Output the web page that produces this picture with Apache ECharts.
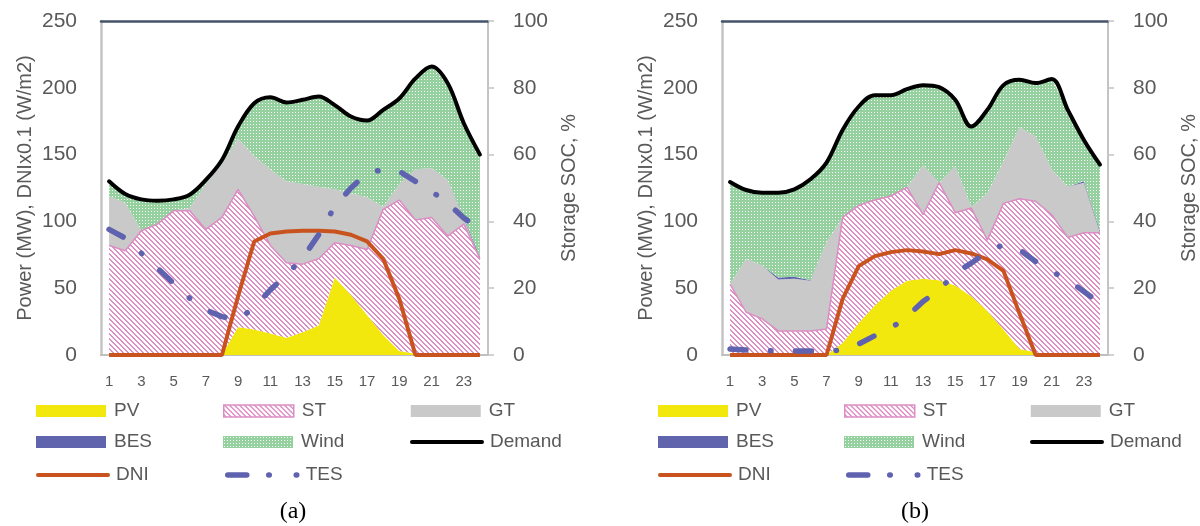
<!DOCTYPE html>
<html>
<head>
<meta charset="utf-8">
<script src="https://cdn.jsdelivr.net/npm/echarts@6/dist/echarts.min.js"></script>
<style>
  html, body { margin: 0; background: #fff; }
  #chart { width: 1200px; height: 526px; }
</style>
</head>
<body>
<div id="chart"></div>
<script>
// hours of the day
const hours = ['1','2','3','4','5','6','7','8','9','10','11','12','13','14','15','16','17','18','19','20','21','22','23','24'];

// panel (a)
const pvA = [0,0,0,0,0,0,0,0,21,19,16,13,17,22,58,45,30,15,3,1,0,0,0,0];
const stA = [82,78,93,98,108,108,94,103,103,85,66,56,51,50,26,37,49,94,113,100,103,89,98,72];
const gtA = [37,36,0,0,0,2,34,40,38,45,57,61,60,54,40,39,39,2,12,38,37,42,4,0];
const besA = [0,0,0,0,0,0,0,0,0,0,0,0,0,0,0,0,0,0,0,0,0,0,1,1.5];
const windA = [11,7,23,17,8,10,3,4,9,40,54,59,63,68,63,58,58,72,64,68,76,72,71,77];
const demandA = [130,120.5,116.5,115.5,116.5,120,131,146,171,188.5,193,189,191,193.5,187,178.5,175.5,183.5,192,207,216,203.5,173.5,150];
const dniA = [0,0,0,0,0,0,0,0,44,85,91,92.5,93,93,92.5,90,85,72,42,0,0,0,0,0];
const tesA = [37.6,35,30.5,26,21.5,17,13.5,11.5,10.5,14.3,19.5,24,29,36,44.5,50,54.5,55.5,55,52,49,45.5,41,37.7];

// panel (b)
const pvB = [0,0,0,0,0,0,0,9,24,37,48,55.5,57,56,52,44,33,19,4.5,2,0,0,0,0];
const stB = [53,32,27,18,18,18,19.5,94,88,79,71,70,48,73,54.5,66,53,94.5,112.5,113,105,88,91.5,91.5];
const gtB = [0,40,40,38.5,39,37.5,65,0,0,0,0,0,37,0,35,1,35,31.5,53.5,48.5,34,38,37.5,0];
const besB = [0,0,0,1.5,1.5,0.5,0,0,0,0,0,0,0,0,0,0,0,0,0,0,0,0,1,1.5];
const windB = [76.5,51.5,54.5,63.5,65.5,75.5,59.5,65.5,74,78.5,75.5,73.5,60,71.5,49.5,60,62.5,57,35.5,40,67.5,57.5,31,49.5];
const demandB = [129.5,123.5,121.5,121.5,124,131.5,144,168.5,186,194.5,194.5,199,202,200.5,191,171,183.5,202,206,203.5,206.5,183.5,161,142.5];
const dniB = [0,0,0,0,0,0,0,42,66.5,74,77,78.5,77.5,75.5,78.5,76,71.5,63,31,0,0,0,0,0];
const tesB = [1.8,1.5,1.3,1.2,1.2,1.2,1.2,1.5,3.3,5.8,8,11.5,16,19.5,24.5,27.5,31,33,31.5,28,25,22.5,19,15.5];

const FONT = 'Liberation Sans';
const GREY_TXT = '#595959';

// fill patterns (hatch for ST, dots for Wind)
function hatchCanvas() {
    const c = document.createElement('canvas');
    c.width = c.height = 5;
    const ctx = c.getContext('2d');
    ctx.fillStyle = '#ffffff';
    ctx.fillRect(0, 0, 5, 5);
    ctx.fillStyle = '#E08FC6';
    for (let i = 0; i < 5; i++) {
        ctx.fillRect(i, i, 1, 1);
        ctx.fillRect((i + 1) % 5, i, 1, 1);
    }
    return c;
}
function dotCanvas() {
    const c = document.createElement('canvas');
    c.width = c.height = 3;
    const ctx = c.getContext('2d');
    ctx.fillStyle = '#95D19F';
    ctx.fillRect(0, 0, 3, 3);
    ctx.fillStyle = '#ffffff';
    ctx.fillRect(1, 1, 1, 1);
    return c;
}
const hatch = { image: hatchCanvas(), repeat: 'repeat' };
const dots = { image: dotCanvas(), repeat: 'repeat' };

const colors = {
    PV: '#F3E80E',
    ST: '#DB8EC3',
    GT: '#C9C9C9',
    BES: '#6064AC',
    Demand: '#000000',
    DNI: '#C8531E',
    TES: '#5F62AE'
};

function area(name, data, stack, xi, yi, fill, line) {
    return {
        name: name,
        type: 'line',
        stack: stack,
        xAxisIndex: xi,
        yAxisIndex: yi,
        data: data,
        symbol: 'none',
        z: 2,
        lineStyle: line || { width: 0, opacity: 0 },
        areaStyle: { color: fill, opacity: 1 },
        itemStyle: { color: typeof fill === 'string' ? fill : (colors[name] || '#A3D9AB') },
        emphasis: { disabled: true }
    };
}

function panelSeries(p, xi, yi, yr) {
    const st = 'stack' + xi;
    return [
        area('PV', p.pv, st, xi, yi, colors.PV),
        area('ST', p.st, st, xi, yi, hatch, { color: colors.ST, width: 1.5 }),
        area('GT', p.gt, st, xi, yi, colors.GT),
        area('BES', p.bes, st, xi, yi, colors.BES),
        area('Wind', p.wind, st, xi, yi, dots),
        {
            name: 'Demand', type: 'line', xAxisIndex: xi, yAxisIndex: yi,
            data: p.demand, symbol: 'none', smooth: 0.35, z: 4,
            lineStyle: { color: colors.Demand, width: 4, cap: 'round' },
            itemStyle: { color: colors.Demand },
            emphasis: { disabled: true }
        },
        {
            name: 'DNI', type: 'line', xAxisIndex: xi, yAxisIndex: yi,
            data: p.dni, symbol: 'none', z: 3,
            lineStyle: { color: colors.DNI, width: 4 },
            itemStyle: { color: colors.DNI },
            emphasis: { disabled: true }
        },
        {
            name: 'TES', type: 'line', xAxisIndex: xi, yAxisIndex: yr,
            data: p.tes, symbol: 'none', z: 5,
            lineStyle: { color: colors.TES, width: 5.5, cap: 'round', type: [16, 24.5, 0.5, 24.5] },
            itemStyle: { color: colors.TES },
            emphasis: { disabled: true }
        }
    ];
}

function xAxes(gi) {
    return [
        {
            type: 'category', gridIndex: gi, data: hours, position: 'bottom',
            boundaryGap: true,
            axisLine: { onZero: false, lineStyle: { color: '#BFBFBF', width: 2 } },
            axisTick: { show: false },
            axisLabel: { interval: 1, margin: 19, color: GREY_TXT, fontSize: 15, fontFamily: FONT }
        },
        {
            type: 'category', gridIndex: gi, data: hours, position: 'top',
            axisLine: { onZero: false, lineStyle: { color: '#44546A', width: 2.5 } },
            axisTick: { show: false },
            axisLabel: { show: false }
        }
    ];
}

function yAxes(gi) {
    return [
        {
            type: 'value', gridIndex: gi, position: 'left', min: 0, max: 250, interval: 50,
            name: 'Power (MW), DNIx0.1 (W/m2)', nameLocation: 'middle', nameGap: 66,
            nameTextStyle: { color: GREY_TXT, fontSize: 20, fontFamily: FONT },
            axisLine: { show: true, onZero: false, lineStyle: { color: '#C4C4C4', width: 2.5 } },
            axisTick: { show: false },
            splitLine: { show: false },
            axisLabel: { margin: 24, color: GREY_TXT, fontSize: 21, fontFamily: FONT }
        },
        {
            type: 'value', gridIndex: gi, position: 'right', min: 0, max: 100, interval: 20,
            name: 'Storage SOC, %', nameLocation: 'middle', nameGap: 71,
            nameTextStyle: { color: GREY_TXT, fontSize: 20, fontFamily: FONT },
            axisLine: { show: true, onZero: false, lineStyle: { color: '#C4C4C4', width: 2 } },
            axisTick: { show: true, length: 6, lineStyle: { color: '#C4C4C4', width: 1.5 } },
            splitLine: { show: false },
            axisLabel: { margin: 25, color: GREY_TXT, fontSize: 21, fontFamily: FONT }
        }
    ];
}

// legend rows; line items hide the marker that echarts adds to line icons
const noMarker = { color: 'rgba(0,0,0,0)', borderWidth: 0 };
const legendItems = {
    PV: { name: 'PV', icon: 'rect', itemStyle: { color: colors.PV, borderWidth: 0 } },
    ST: { name: 'ST', icon: 'rect', itemStyle: { color: hatch, borderColor: colors.ST, borderWidth: 1.5 } },
    GT: { name: 'GT', icon: 'rect', itemStyle: { color: colors.GT, borderWidth: 0 } },
    BES: { name: 'BES', icon: 'rect', itemStyle: { color: colors.BES, borderWidth: 0 } },
    Wind: { name: 'Wind', icon: 'rect', itemStyle: { color: dots, borderWidth: 0 } },
    Demand: { name: 'Demand', itemStyle: noMarker,
        lineStyle: { color: colors.Demand, width: 4, cap: 'round' } },
    DNI: { name: 'DNI', itemStyle: noMarker,
        lineStyle: { color: colors.DNI, width: 4, cap: 'round' } },
    TES: { name: 'TES', itemStyle: noMarker,
        lineStyle: { color: colors.TES, width: 5.5, cap: 'round', type: [19, 22, 0.5, 27, 0.5, 40] } }
};
const legendRows = [['PV', 'ST', 'GT'], ['BES', 'Wind', 'Demand'], ['DNI', 'TES']];
const rowCenters = [411, 442, 475];

function legends(left, gap) {
    return legendRows.map(function (row, i) {
        return {
            left: left,
            top: rowCenters[i] - 10,
            width: 560,
            orient: 'horizontal',
            padding: 0,
            itemWidth: 70,
            itemHeight: 12,
            itemGap: gap,
            selectedMode: false,
            data: row.map(function (n) { return legendItems[n]; }),
            textStyle: {
                color: GREY_TXT, fontSize: 19, fontFamily: FONT,
                width: 85, lineHeight: 20, padding: [0, 0, 0, 3]
            }
        };
    });
}

const chart = echarts.init(document.getElementById('chart'), null, { renderer: 'canvas' });

const option = {
    animation: false,
    backgroundColor: '#ffffff',
    title: [
        { text: '(a)', left: 293, top: 500, textAlign: 'center', padding: 0,
          textStyle: { fontFamily: 'Liberation Serif', fontSize: 24, fontWeight: 'normal', color: '#000' } },
        { text: '(b)', left: 915, top: 500, textAlign: 'center', padding: 0,
          textStyle: { fontFamily: 'Liberation Serif', fontSize: 24, fontWeight: 'normal', color: '#000' } }
    ],
    legend: legends(36, 24).concat(legends(658, 23)),
    grid: [
        { left: 101, right: 712, top: 21, bottom: 171 },
        { left: 722, right: 92, top: 21, bottom: 171 }
    ],
    xAxis: xAxes(0).concat(xAxes(1)),
    yAxis: yAxes(0).concat(yAxes(1)),
    series: panelSeries({ pv: pvA, st: stA, gt: gtA, bes: besA, wind: windA, demand: demandA, dni: dniA, tes: tesA }, 0, 0, 1)
        .concat(panelSeries({ pv: pvB, st: stB, gt: gtB, bes: besB, wind: windB, demand: demandB, dni: dniB, tes: tesB }, 2, 2, 3))
};

chart.setOption(option);
</script>
</body>
</html>
